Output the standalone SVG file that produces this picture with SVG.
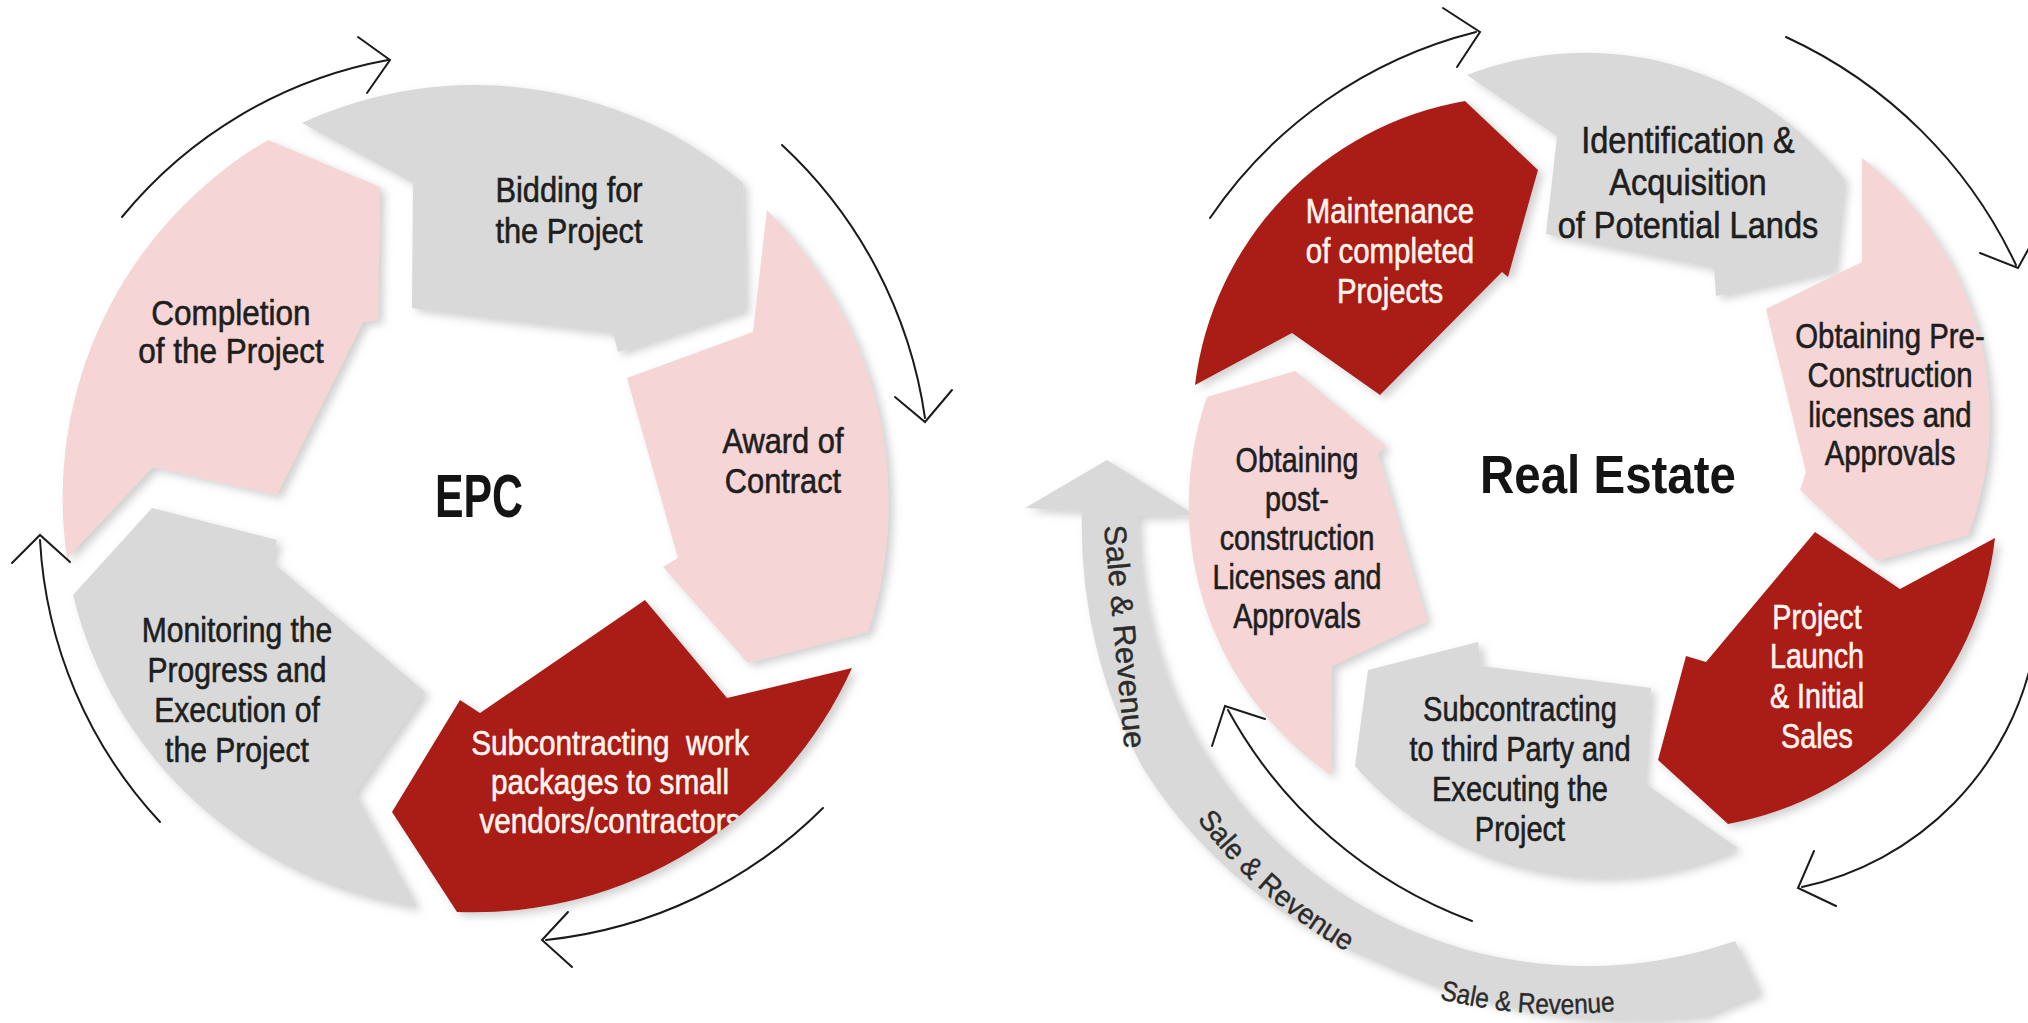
<svg xmlns="http://www.w3.org/2000/svg" width="2028" height="1023" viewBox="0 0 2028 1023">
<defs>
<style>
.gray{fill:#D9D9D9}
.pink{fill:#F5D5D5}
.red{fill:#AA1D13}
.seg{filter:url(#sh)}
.t{font-family:"Liberation Sans",Arial,sans-serif;font-size:35px;fill:#1E1E1E;stroke:#1E1E1E;stroke-width:0.6;text-anchor:middle}
.w{fill:#FFF4EE;stroke:#FFF4EE}
.big{font-size:37px}
.title{font-family:"Liberation Sans",Arial,sans-serif;font-weight:bold;fill:#141414;text-anchor:middle}
.arc{fill:none;stroke:#1A1A1A;stroke-width:2;stroke-linecap:round;stroke-linejoin:miter}
.sr{font-family:"Liberation Sans",Arial,sans-serif;fill:#2B2B2B;stroke:#2B2B2B;stroke-width:0.4}
</style>
<filter id="sh" x="-15%" y="-15%" width="140%" height="140%">
<feDropShadow dx="5" dy="4" stdDeviation="4" flood-color="#7A7A7A" flood-opacity="0.35"/>
</filter>
<clipPath id="clipSub"><path d="M852,668 L727,698 L645,600 L480,713 L460,700 L392,812 L457,912 A415,415 0 0 0 852,668 Z"/></clipPath>
<path id="srPath2" d="M1184,801 A486,486 0 0 0 1405,980"/>
<path id="srPath3" d="M1425,995 A500,500 0 0 0 1660,1004"/>
</defs>
<rect width="2028" height="1023" fill="#FFFFFF"/>

<g id="epc">
<g id="epc-bidding">
<path class="gray seg" d="M302,123 L413,183 L412,308 L613,333 L618,352 L745,310 L743,183 A415,415 0 0 0 302,123 Z"/>
<g transform="matrix(0.88 0 0 1 68.28 0)">
<text class="t" x="569" y="202">Bidding for</text>
<text class="t" x="569" y="243">the Project</text>
</g>
</g>
<g id="epc-award">
<path class="pink seg" d="M767,210 L753,332 L627,378 L678,558 L663,567 L748,663 L868,632 A415,415 0 0 0 767,210 Z"/>
<g transform="matrix(0.88 0 0 1 93.96 0)">
<text class="t" x="783" y="453">Award of</text>
<text class="t" x="783" y="493">Contract</text>
</g>
</g>
<g id="epc-subcontracting">
<path class="red seg" d="M852,668 L727,698 L645,600 L480,713 L460,700 L392,812 L457,912 A415,415 0 0 0 852,668 Z"/>
<g clip-path="url(#clipSub)">
<g transform="matrix(0.85 0 0 1 91.5 0)">
<text class="t w" x="610" y="755" xml:space="preserve" style="white-space:pre">Subcontracting  work</text>
<text class="t w" x="610" y="794">packages to small</text>
<text class="t w" x="610" y="833">vendors/contractors</text>
</g>
</g>
</g>
<g id="epc-monitoring">
<path class="gray seg" d="M417,907 L355,793 L425,692 L272,562 L277,540 L152,508 L73,595 A415,415 0 0 0 417,907 Z"/>
<g transform="matrix(0.86 0 0 1 33.18 0)">
<text class="t" x="237" y="642">Monitoring the</text>
<text class="t" x="237" y="682">Progress and</text>
<text class="t" x="237" y="722">Execution of</text>
<text class="t" x="237" y="762">the Project</text>
</g>
</g>
<g id="epc-completion">
<path class="pink seg" d="M67,558 L153,467 L277,495 L363,322 L378,320 L380,187 L268,140 A415,415 0 0 0 67,558 Z"/>
<g transform="matrix(0.9 0 0 1 23.1 0)">
<text class="t" x="231" y="325">Completion</text>
<text class="t" x="231" y="363">of the Project</text>
</g>
</g>
<g id="epc-title">
<text class="title" x="479" y="517" font-size="62" textLength="88" lengthAdjust="spacingAndGlyphs">EPC</text>
</g>
</g>

<g id="real-estate">
<g id="re-sale-revenue">
<path class="gray seg" d="M1082,511 L1025,508 L1107,460 L1195,515 L1138,516 A449,449 0 0 0 1735,941 L1760,993 L1705,1016 A600,600 0 0 1 1377,962 A490,490 0 0 1 1143,768 A505,505 0 0 1 1082,511 Z"/>
<text class="sr" font-size="31" transform="translate(1104,526) rotate(84.7)">Sale &amp; Revenue</text>
<text class="sr" font-size="29" text-anchor="middle"><textPath href="#srPath2" startOffset="123" textLength="201" lengthAdjust="spacingAndGlyphs">Sale &amp; Revenue</textPath></text>
<text class="sr" font-size="28"><textPath href="#srPath3" startOffset="15" textLength="177" lengthAdjust="spacingAndGlyphs">Sale &amp; Revenue</textPath></text>
</g>
<g id="re-identification">
<path class="gray seg" d="M1467,75 L1557,136 L1546,234 L1714,268 L1716,296 L1834,270 L1844,179 A328,328 0 0 0 1467,75 Z"/>
<g transform="matrix(0.88 0 0 1 202.56 0)">
<text class="t big" x="1688" y="153">Identification &amp;</text>
<text class="t big" x="1688" y="195">Acquisition</text>
<text class="t big" x="1688" y="238">of Potential Lands</text>
</g>
</g>
<g id="re-preconstruction">
<path class="pink seg" d="M1862,158 L1862,262 L1766,309 L1806,472 L1800,490 L1876,561 L1968,535 A328,328 0 0 0 1862,158 Z"/>
<g transform="matrix(0.84 0 0 1 302.4 0)">
<text class="t" x="1890" y="348">Obtaining Pre-</text>
<text class="t" x="1890" y="387">Construction</text>
<text class="t" x="1890" y="427">licenses and</text>
<text class="t" x="1890" y="465">Approvals</text>
</g>
</g>
<g id="re-launch">
<path class="red seg" d="M1995,538 L1900,589 L1815,532 L1706,662 L1686,656 L1658,760 L1728,824 A328,328 0 0 0 1995,538 Z"/>
<g transform="matrix(0.82 0 0 1 327.06 0)">
<text class="t w" x="1817" y="629">Project</text>
<text class="t w" x="1817" y="668">Launch</text>
<text class="t w" x="1817" y="708">&amp; Initial</text>
<text class="t w" x="1817" y="748">Sales</text>
</g>
</g>
<g id="re-subcontracting">
<path class="gray seg" d="M1738,848 L1644,783 L1651,688 L1481,666 L1478,642 L1368,670 L1355,766 A328,328 0 0 0 1738,848 Z"/>
<g transform="matrix(0.83 0 0 1 258.4 0)">
<text class="t" x="1520" y="721">Subcontracting</text>
<text class="t" x="1520" y="761">to third Party and</text>
<text class="t" x="1520" y="801">Executing the</text>
<text class="t" x="1520" y="841">Project</text>
</g>
</g>
<g id="re-postconstruction">
<path class="pink seg" d="M1331,775 L1332,666 L1427,621 L1378,454 L1386,446 L1295,371 L1207,397 A328,328 0 0 0 1331,775 Z"/>
<g transform="matrix(0.82 0 0 1 233.46 0)">
<text class="t" x="1297" y="472">Obtaining</text>
<text class="t" x="1297" y="511">post-</text>
<text class="t" x="1297" y="550">construction</text>
<text class="t" x="1297" y="589">Licenses and</text>
<text class="t" x="1297" y="628">Approvals</text>
</g>
</g>
<g id="re-maintenance">
<path class="red seg" d="M1195,385 L1292,333 L1380,395 L1502,272 L1508,277 L1538,170 L1465,101 A328,328 0 0 0 1195,385 Z"/>
<g transform="matrix(0.84 0 0 1 222.4 0)">
<text class="t w" x="1390" y="223">Maintenance</text>
<text class="t w" x="1390" y="263">of completed</text>
<text class="t w" x="1390" y="303">Projects</text>
</g>
</g>
<g id="re-title">
<text class="title" x="1608" y="493" font-size="54" textLength="256" lengthAdjust="spacingAndGlyphs">Real Estate</text>
</g>
</g>

<g id="connectors">
<path class="arc" d="M122,217 A448,448 0 0 1 388,60"/>
<polyline class="arc" points="358,37 390,60 367,93"/>
<path class="arc" d="M782,145 A462,462 0 0 1 925,418"/>
<polyline class="arc" points="895,397 925,422 952,390"/>
<path class="arc" d="M823,808 A460,460 0 0 1 546,940"/>
<polyline class="arc" points="568,912 542,940 572,967"/>
<path class="arc" d="M160,822 A450,450 0 0 1 40,540"/>
<polyline class="arc" points="12,563 40,535 70,562"/>
<path class="arc" d="M1210,218 A455,455 0 0 1 1476,32"/>
<polyline class="arc" points="1443,8 1480,32 1457,67"/>
<path class="arc" d="M1786,37 A472,472 0 0 1 2016,265"/>
<polyline class="arc" points="1980,253 2018,268 2040,228"/>
<path class="arc" d="M2034,650 A300,300 0 0 1 1802,887"/>
<polyline class="arc" points="1814,851 1798,888 1836,906"/>
<path class="arc" d="M1472,921 A460,460 0 0 1 1228,710"/>
<polyline class="arc" points="1265,719 1225,706 1212,746"/>
</g>
</svg>
